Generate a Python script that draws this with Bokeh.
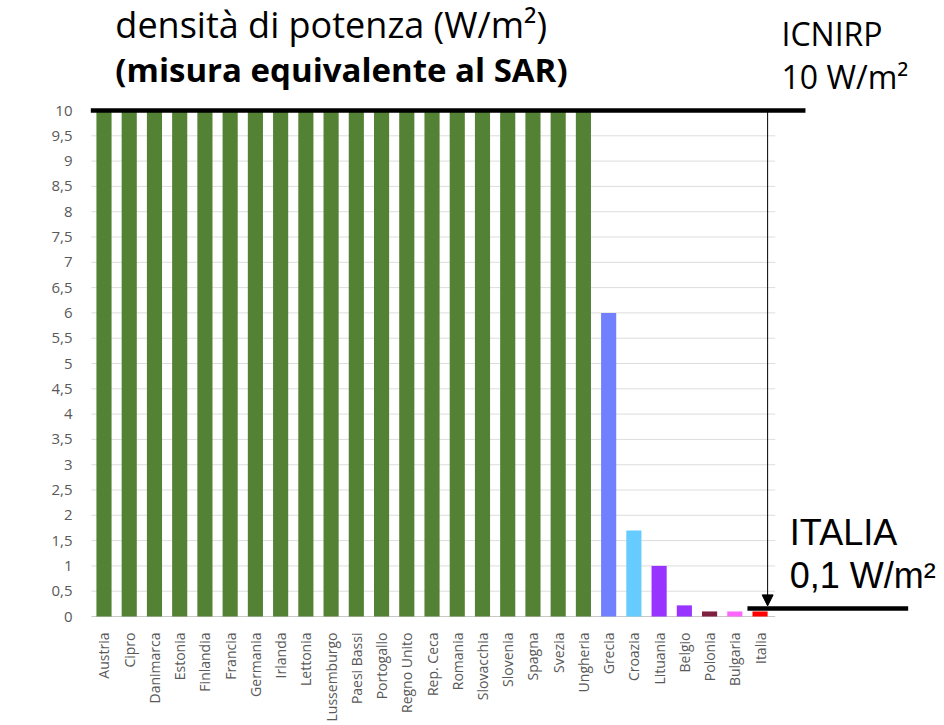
from bokeh.plotting import figure
from bokeh.models import Range1d, FixedTicker, Label, Arrow, NormalHead
from bokeh.core.properties import value
from bokeh.embed import file_html
from bokeh.resources import INLINE
import math

# Exposure limits (W/m²) by country
countries = ["Austria", "Cipro", "Danimarca", "Estonia", "Finlandia", "Francia",
             "Germania", "Irlanda", "Lettonia", "Lussemburgo", "Paesi Bassi",
             "Portogallo", "Regno Unito", "Rep. Ceca", "Romania", "Slovacchia",
             "Slovenia", "Spagna", "Svezia", "Ungheria", "Grecia", "Croazia",
             "Lituania", "Belgio", "Polonia", "Bulgaria", "Italia"]
limits = [10, 10, 10, 10, 10, 10, 10, 10, 10, 10, 10, 10, 10, 10, 10, 10, 10,
          10, 10, 10, 6, 1.7, 1, 0.22, 0.1, 0.1, 0.1]
bar_colors = ["#548235"] * 20 + ["#7080FF", "#66CCFF", "#9933FF", "#9933FF",
                                 "#7F2040", "#FF66FF", "#FF0000"]

y_ticks = [0, 0.5, 1, 1.5, 2, 2.5, 3, 3.5, 4, 4.5, 5, 5.5, 6, 6.5, 7, 7.5, 8,
           8.5, 9, 9.5, 10]
y_tick_labels = ["0", "0,5", "1", "1,5", "2", "2,5", "3", "3,5", "4", "4,5",
                 "5", "5,5", "6", "6,5", "7", "7,5", "8", "8,5", "9", "9,5", "10"]

icnirp_limit = 10
italia_marker = 0.16

idx = list(range(len(countries)))
grey = "#595959"

p = figure(width=944, height=725, output_backend="svg", toolbar_location=None,
           x_range=Range1d(-0.535, 33.31), y_range=Range1d(-2.154, 12.174),
           x_axis_location=None, min_border=0, min_border_left=90)
p.outline_line_color = None
p.xgrid.visible = False
p.ygrid.visible = False
p.background_fill_color = "white"
p.border_fill_color = "white"

# y axis with comma decimals
ya = p.yaxis[0]
ya.ticker = FixedTicker(ticks=y_ticks)
ya.major_label_overrides = {t: s for t, s in zip(y_ticks, y_tick_labels)}
ya.axis_line_color = None
ya.major_tick_line_color = None
ya.minor_tick_line_color = None
ya.major_tick_in = 0
ya.major_tick_out = 0
ya.major_label_standoff = 18
ya.major_label_text_color = grey
ya.major_label_text_font = "Open Sans"
ya.major_label_text_font_size = "15px"

# horizontal gridlines
n = len(countries)
p.segment(x0=[-0.5] * (len(y_ticks) - 1), x1=[26.6] * (len(y_ticks) - 1),
          y0=y_ticks[1:], y1=y_ticks[1:], line_color="#DDDDDD", line_width=1)
p.segment(x0=[-0.5], x1=[26.6], y0=[0], y1=[0], line_color="#C8C8C8", line_width=1)

# bars
p.vbar(x=idx, top=limits, width=0.6, fill_color=bar_colors, line_color=None)

# category labels (vertical)
p.text(x=idx, y=[0] * n, text=countries, angle=math.pi / 2, y_offset=16,
       text_align="right", text_baseline="middle", text_color=grey,
       text_font=value("Open Sans"), text_font_size="14px")

# y axis title
p.add_layout(Label(x=-2.45, y=5.1, text="Limite in W/m²", angle=math.pi / 2,
                   text_align="center", text_baseline="middle", text_color=grey,
                   text_font="Open Sans", text_font_size="18px"))

# reference lines and arrow
p.line(x=[-0.53, 27.8], y=[icnirp_limit, icnirp_limit], line_color="black", line_width=4.5)
p.line(x=[25.5, 31.87], y=[italia_marker, italia_marker], line_color="black", line_width=4.5)
p.add_layout(Arrow(end=NormalHead(size=11, fill_color="black", line_color="black"),
                   x_start=26.3, y_start=icnirp_limit, x_end=26.3, y_end=italia_marker + 0.05,
                   line_color="black", line_width=1))

# headings
p.add_layout(Label(x=0.45, y=11.69, text="densità di potenza (W/m²)",
                   text_font="Open Sans", text_font_size="36px", text_color="black",
                   text_baseline="alphabetic"))
p.add_layout(Label(x=0.45, y=10.82, text="(misura equivalente al SAR)",
                   text_font="Open Sans", text_font_size="33px", text_font_style="bold",
                   text_color="black", text_baseline="alphabetic"))
p.add_layout(Label(x=26.85, y=11.52, text="ICNIRP",
                   text_font="Open Sans", text_font_size="32px", text_color="black",
                   text_baseline="alphabetic"))
p.add_layout(Label(x=26.85, y=10.67, text="10 W/m²",
                   text_font="Open Sans", text_font_size="32px", text_color="black",
                   text_baseline="alphabetic"))
p.add_layout(Label(x=27.18, y=1.67, text="ITALIA",
                   text_font="Liberation Sans", text_font_size="36px", text_color="black",
                   text_baseline="alphabetic"))
p.add_layout(Label(x=27.18, y=0.82, text="0,1 W/m²",
                   text_font="Liberation Sans", text_font_size="36px", text_color="black",
                   text_baseline="alphabetic"))

open("out.html", "w").write(file_html(p, INLINE))
